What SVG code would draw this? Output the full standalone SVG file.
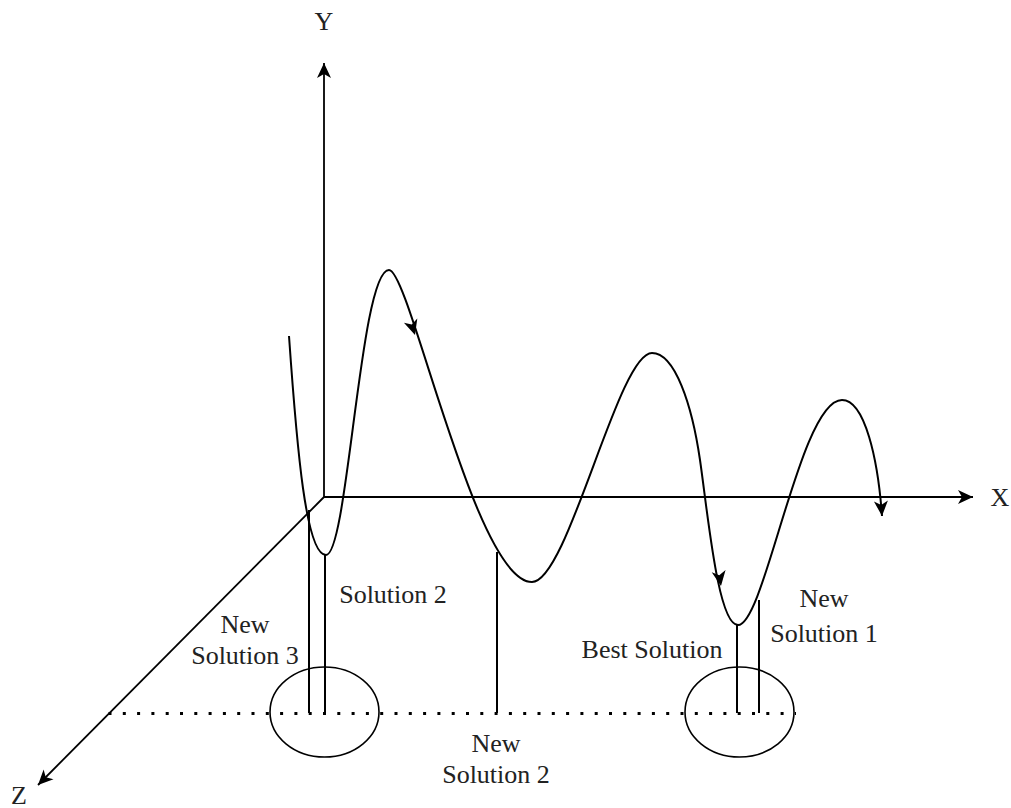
<svg xmlns="http://www.w3.org/2000/svg" xmlns:xlink="http://www.w3.org/1999/xlink" width="1011" height="808" viewBox="0 0 1011 808">
  <style>
    .ln { fill: none; stroke: #000; stroke-width: 2; }
    .ax { fill: none; stroke: #000; stroke-width: 1.8; marker-end: url(#arr); }
    .el { fill: none; stroke: #000; stroke-width: 1.6; }
    .dot { fill: none; stroke: #000; stroke-width: 3; stroke-dasharray: 3 11.3; }
    .lbl { font-family: "Liberation Serif", "Times New Roman", serif; font-size: 26px; fill: #222; text-anchor: middle; }
  </style>
  <defs>
    <marker id="arr" viewBox="-16 -8 17 16" refX="0" refY="0" markerWidth="17" markerHeight="16" markerUnits="userSpaceOnUse" orient="auto">
      <path d="M0,0 L-15,-7 L-11,0 L-15,7 Z" fill="#000"/>
    </marker>
    <path id="ah" d="M0,0 L-15,-7 L-11,0 L-15,7 Z" fill="#000"/>
  </defs>

  <g id="axes">
    <line class="ax" x1="324" y1="497" x2="324" y2="63"/>
    <line class="ax" x1="324" y1="497" x2="973" y2="497"/>
    <line class="ax" x1="324" y1="497" x2="38" y2="785"/>
    <text class="lbl" x="324" y="30">Y</text>
    <text class="lbl" x="1000" y="506">X</text>
    <text class="lbl" x="19" y="804">Z</text>
  </g>

  <g id="baseline">
    <line class="dot" x1="108.5" y1="713.5" x2="796" y2="713.5"/>
  </g>

  <g id="ellipse-left">
    <ellipse class="el" cx="324.5" cy="712" rx="54.5" ry="45"/>
  </g>
  <g id="ellipse-right">
    <ellipse class="el" cx="739.5" cy="712" rx="54.5" ry="45"/>
  </g>

  <g id="curve">
    <path class="ln" marker-end="url(#arr)" d="M289,336 C297,450 306,555 326,555 C348,555 360,270 389,270 C410,270 475,582 532,582 C568,582 618,353 652,353 C675,353 692,405 700,460 C708,515 718,625 738,625 C765,625 800,400 842,400 C865,400 878,460 882,516"/>
    <use xlink:href="#ah" href="#ah" transform="translate(415,335) rotate(73)"/>
    <use xlink:href="#ah" href="#ah" transform="translate(721,586) rotate(81)"/>
  </g>

  <g id="connectors">
    <line class="ln" x1="309" y1="510" x2="309" y2="713"/>
    <line class="ln" x1="325" y1="555" x2="325" y2="713"/>
    <line class="ln" x1="497" y1="552" x2="497" y2="713"/>
    <line class="ln" x1="737" y1="625" x2="737" y2="713"/>
    <line class="ln" x1="759" y1="600" x2="759" y2="713"/>
  </g>

  <g id="label-new-solution-3">
    <text class="lbl" x="245" y="633">New</text>
    <text class="lbl" x="245" y="664">Solution 3</text>
  </g>
  <g id="label-solution-2">
    <text class="lbl" x="393" y="603">Solution 2</text>
  </g>
  <g id="label-new-solution-2">
    <text class="lbl" x="496" y="752">New</text>
    <text class="lbl" x="496" y="783">Solution 2</text>
  </g>
  <g id="label-best-solution">
    <text class="lbl" x="652" y="658">Best Solution</text>
  </g>
  <g id="label-new-solution-1">
    <text class="lbl" x="824" y="607">New</text>
    <text class="lbl" x="824" y="642">Solution 1</text>
  </g>
</svg>
